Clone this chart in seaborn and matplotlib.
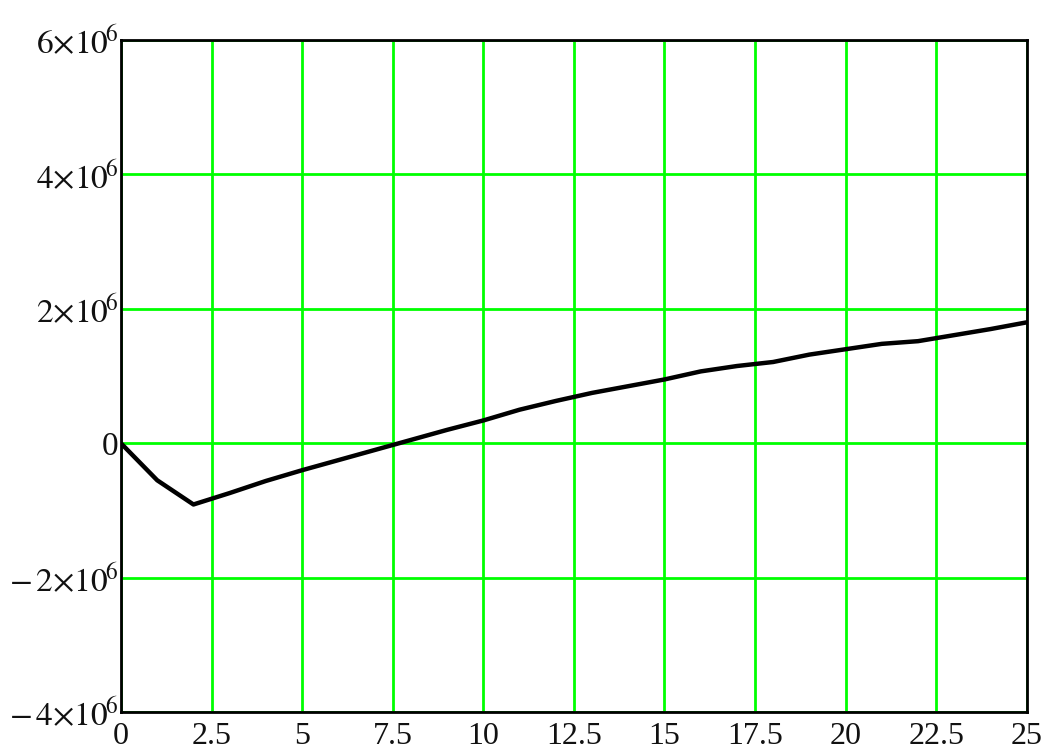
import matplotlib
matplotlib.use("Agg")
import matplotlib.pyplot as plt
import seaborn as sns
import pandas as pd
from matplotlib.ticker import FuncFormatter

sns.set_style("white")
plt.rcParams["font.family"] = ["Liberation Serif", "DejaVu Serif"]
plt.rcParams["mathtext.fontset"] = "stix"

x = list(range(26))
y = [0, -0.55, -0.91, -0.74, -0.56, -0.40, -0.25, -0.10, 0.05, 0.20,
     0.34, 0.50, 0.63, 0.75, 0.85, 0.95, 1.07, 1.15, 1.21, 1.32,
     1.40, 1.48, 1.52, 1.61, 1.70, 1.80]
y = [v * 1e6 for v in y]

xticks = [0, 2.5, 5, 7.5, 10, 12.5, 15, 17.5, 20, 22.5, 25]
yticks = [-4e6, -2e6, 0, 2e6, 4e6, 6e6]

df = pd.DataFrame({"x": x, "y": y})

fig = plt.figure(figsize=(10.52, 7.56), dpi=100)
ax = fig.add_axes([0.115, 0.058, 0.861, 0.889])

ax.grid(True, color="#00ff00", linewidth=2, zorder=0)
sns.lineplot(data=df, x="x", y="y", color="black", linewidth=3.2, ax=ax, zorder=3)

ax.set_xlim(0, 25)
ax.set_ylim(-4e6, 6e6)
ax.set_xticks(xticks)
ax.set_yticks(yticks)


def yfmt(v, pos):
    if v == 0:
        return "0"
    m = int(round(abs(v) / 1e6))
    if v < 0:
        return r"$-\,%d{\times}10^{\!6}$" % m
    return r"$%d{\times}10^{\!6}$" % m


def xfmt(v, pos):
    return ("%g" % v)


ax.yaxis.set_major_formatter(FuncFormatter(yfmt))
ax.xaxis.set_major_formatter(FuncFormatter(xfmt))
ax.tick_params(axis="both", length=0, colors="#111111")
ax.tick_params(axis="y", pad=2, labelsize=24)
ax.tick_params(axis="x", pad=7, labelsize=23)

for s in ax.spines.values():
    s.set_color("black")
    s.set_linewidth(2)
    s.set_visible(True)

ax.set_xlabel("")
ax.set_ylabel("")

fig.savefig("out.png", dpi=100)
